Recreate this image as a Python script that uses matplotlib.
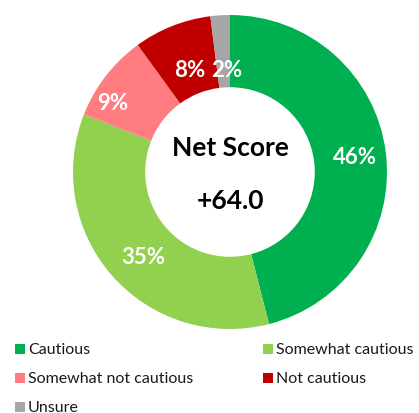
import matplotlib
matplotlib.use("Agg")
import matplotlib.pyplot as plt
from matplotlib.patches import Rectangle
import numpy as np

plt.rcParams['font.family'] = ['Lato', 'DejaVu Sans']

categories = ["Cautious", "Somewhat cautious", "Somewhat not cautious", "Not cautious", "Unsure"]
values = [46, 35, 9, 8, 2]
labels = ["46%", "35%", "9%", "8%", "2%"]
colors = ["#00B050", "#92D050", "#FF7C80", "#C00000", "#A6A6A6"]
center_title = "Net Score"
center_value = "+64.0"

# layout: radial distance (fraction of outer radius) and angular nudge (deg) of each label
label_dist = [0.80, 0.77, 0.87, 0.70, 0.65]
label_nudge = [0, 3, 7, 0, -2]

W, H = 419, 414
fig = plt.figure(figsize=(W / 100, H / 100), dpi=100)
cx, cy, R = 230, 173, 157
ax = fig.add_axes([(cx - R) / W, (H - cy - R) / H, 2 * R / W, 2 * R / H])
wedges, _ = ax.pie(values, colors=colors, startangle=90, counterclock=False,
                   radius=1.0, wedgeprops=dict(width=0.46, linewidth=0))
for w, lab, d, nd in zip(wedges, labels, label_dist, label_nudge):
    ang = np.deg2rad((w.theta1 + w.theta2) / 2 + nd)
    ax.text(d * np.cos(ang), d * np.sin(ang), lab, ha="center", va="center",
            color="white", fontsize=16, fontweight="bold")
ax.set_xlim(-1, 1)
ax.set_ylim(-1, 1)
ax.set_aspect("equal")
ax.axis("off")

ax.text(0, 0.16, center_title, ha="center", va="center", fontsize=19, fontweight="bold", color="black")
ax.text(0, -0.18, center_value, ha="center", va="center", fontsize=19, fontweight="bold", color="black")

# legend (manual, 2 columns)
col_x = [15, 263]
row_y = [350, 379, 408]
for i, (cat, col) in enumerate(zip(categories, colors)):
    r, c = divmod(i, 2)
    x = col_x[c]
    y = row_y[r]
    fig.patches.append(Rectangle((x / W, (H - y - 5) / H), 10 / W, 10 / H,
                                 transform=fig.transFigure, facecolor=col, edgecolor="none"))
    fig.text((x + 13) / W, (H - y) / H, cat, ha="left", va="center", fontsize=11.5, color="#1a1a1a")

fig.savefig("out.png", dpi=100, facecolor="white")
